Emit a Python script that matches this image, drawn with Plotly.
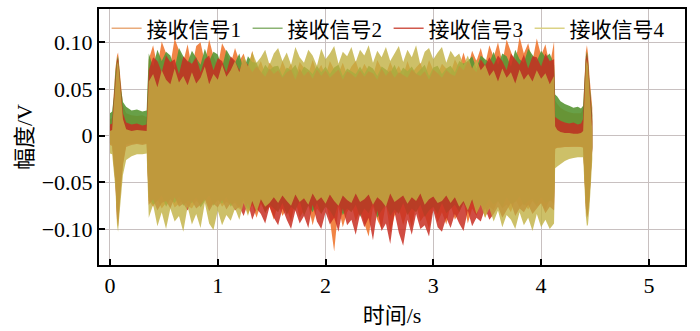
import plotly.graph_objects as go

# Sample times (s) of the envelope knots: start burst, main burst, tail
T = [
    0.00, 0.02, 0.035, 0.05, 0.065, 0.075, 0.085, 0.10, 0.12, 0.15, 0.20, 0.25, 0.30, 0.34,
    0.36, 0.40, 0.44, 0.48, 0.52, 0.56, 0.60, 0.64, 0.68, 0.72,
    0.76, 0.80, 0.84, 0.88, 0.92, 0.96, 1.00, 1.04, 1.08, 1.12,
    1.16, 1.20, 1.24, 1.28, 1.32, 1.36, 1.40, 1.44, 1.48, 1.52,
    1.56, 1.60, 1.64, 1.68, 1.72, 1.76, 1.80, 1.84, 1.88, 1.92,
    1.96, 2.00, 2.04, 2.08, 2.12, 2.16, 2.20, 2.24, 2.28, 2.32,
    2.36, 2.40, 2.44, 2.48, 2.52, 2.56, 2.60, 2.64, 2.68, 2.72,
    2.76, 2.80, 2.84, 2.88, 2.92, 2.96, 3.00, 3.04, 3.08, 3.12,
    3.16, 3.20, 3.24, 3.28, 3.32, 3.36, 3.40, 3.44, 3.48, 3.52,
    3.56, 3.60, 3.64, 3.68, 3.72, 3.76, 3.80, 3.84, 3.88, 3.92,
    3.96, 4.00, 4.04, 4.08, 4.12,
    4.13, 4.15, 4.18, 4.22, 4.26, 4.30, 4.34, 4.37,
    4.39, 4.405, 4.415, 4.425, 4.435, 4.45, 4.465, 4.475,
]

# Upper / lower envelopes of each received signal, in mV
S1_UP = [
    18, 19, 45, 72, 86, 89, 76, 55, 33, 24, 22, 21, 22, 20,
    82, 97, 74, 101, 88, 76, 104, 92, 79, 98,
    72, 96, 100, 78, 103, 85, 74, 99, 90, 77,
    94, 80, 88, 72, 91, 70, 80, 66, 78, 72,
    66, 80, 69, 77, 64, 79, 72, 66, 81, 68,
    76, 64, 80, 71, 67, 78, 65, 74, 80, 66,
    77, 69, 64, 81, 72, 66, 79, 68, 75, 64,
    80, 67, 73, 78, 65, 81, 70, 66, 77, 72,
    67, 82, 73, 89, 73, 91, 80, 94, 76, 97,
    84, 100, 78, 103, 91, 77, 106, 88, 99, 80,
    104, 86, 98, 75, 101,
    38, 34, 30, 27, 25, 24, 24, 24,
    30, 68, 90, 97, 88, 62, 45, 30,
]
S1_LO = [
    -9, -10, -30, -48, -85, -92, -78, -55, -30, -10, -9, -8, -9, -8,
    -70, -76, -68, -78, -72, -66, -77, -73, -69, -75,
    -78, -70, -74, -67, -77, -72, -68, -76, -71, -74,
    -72, -79, -70, -84, -74, -88, -73, -82, -76, -90,
    -72, -86, -78, -92, -70, -88, -80, -74, -96, -78,
    -84, -72, -90, -124, -76, -98, -82, -74, -92, -80,
    -94, -108, -76, -90, -100, -72, -104, -86, -78, -96,
    -80, -99, -74, -92, -85, -100, -76, -93, -82, -95,
    -74, -90, -82, -70, -94, -78, -86, -72, -88, -76,
    -80, -70, -78, -74, -82, -68, -77, -72, -79, -70,
    -76, -72, -80, -68, -74,
    -14, -13, -12, -12, -12, -11, -11, -12,
    -12, -50, -75, -86, -82, -65, -40, -12,
]
S2_UP = [
    24, 26, 42, 68, 82, 85, 74, 52, 36, 31, 27, 28, 26, 27,
    88, 74, 92, 80, 90, 86, 72, 94, 85, 78,
    91, 83, 76, 93, 80, 90, 87, 73, 92, 84,
    78, 88, 70, 85, 79, 78, 66, 76, 70, 74,
    75, 64, 73, 70, 76, 65, 74, 71, 66, 75,
    68, 74, 66, 73, 76, 64, 72, 69, 66, 74,
    66, 75, 72, 64, 74, 71, 67, 76, 65, 73,
    69, 74, 66, 71, 76, 64, 73, 75, 66, 72,
    75, 68, 80, 77, 80, 85, 72, 86, 82, 78,
    90, 76, 88, 85, 74, 92, 82, 78, 93, 86,
    80, 91, 84, 88, 76,
    44, 42, 37, 34, 32, 30, 31, 29,
    32, 64, 85, 90, 82, 56, 38, 22,
]
S2_LO = [
    -8, -9, -28, -46, -82, -90, -75, -52, -28, -9, -8, -8, -8, -8,
    -66, -74, -70, -64, -76, -68, -72, -65, -75, -70,
    -72, -66, -77, -70, -64, -75, -69, -73, -66, -76,
    -70, -75, -68, -79, -72, -80, -70, -83, -74, -78,
    -82, -72, -85, -76, -80, -70, -86, -75, -82, -72,
    -84, -76, -80, -88, -72, -85, -78, -82, -74, -87,
    -78, -83, -72, -88, -80, -74, -86, -79, -84, -72,
    -85, -78, -82, -74, -87, -80, -76, -84, -72, -83,
    -78, -74, -82, -72, -80, -70, -78, -74, -76, -68,
    -74, -70, -77, -66, -73, -71, -65, -75, -70, -68,
    -74, -66, -72, -70, -67,
    -13, -12, -12, -11, -11, -11, -11, -11,
    -12, -48, -72, -84, -80, -62, -38, -12,
]
S3_UP = [
    12, 13, 38, 64, 80, 83, 70, 48, 24, 14, 12, 13, 11, 12,
    70, 84, 80, 68, 86, 79, 82, 66, 85, 80,
    77, 84, 68, 82, 86, 70, 83, 80, 68, 85,
    80, 70, 82, 76, 68, 74, 69, 63, 72, 66,
    70, 62, 68, 71, 60, 72, 64, 69, 61, 71,
    64, 70, 62, 67, 71, 60, 69, 66, 62, 70,
    63, 69, 67, 60, 72, 64, 70, 62, 68, 65,
    62, 71, 66, 64, 69, 60, 71, 67, 62, 70,
    66, 64, 75, 70, 80, 73, 68, 82, 75, 84,
    76, 86, 80, 70, 88, 82, 76, 87, 72, 85,
    84, 74, 88, 80, 82,
    20, 18, 16, 14, 13, 14, 12, 13,
    18, 60, 82, 88, 80, 52, 34, 15,
]
S3_LO = [
    -10, -11, -32, -50, -90, -97, -82, -58, -32, -12, -10, -9, -10, -9,
    -74, -68, -80, -72, -70, -78, -66, -76, -73, -80,
    -70, -78, -74, -68, -81, -73, -77, -69, -79, -72,
    -80, -76, -86, -72, -90, -78, -84, -94, -76, -88,
    -96, -78, -90, -100, -80, -94, -86, -99, -74, -92,
    -100, -82, -95, -88, -103, -78, -96, -90, -106, -84,
    -98, -88, -112, -80, -102, -94, -116, -82, -104, -118,
    -90, -106, -84, -100, -96, -108, -80, -98, -103, -88,
    -99, -84, -94, -102, -80, -97, -88, -92, -78, -90,
    -84, -76, -88, -80, -72, -86, -78, -82, -74, -84,
    -78, -72, -83, -76, -80,
    -14, -13, -13, -12, -12, -12, -12, -12,
    -13, -52, -78, -88, -85, -66, -42, -14,
]
S4_UP = [
    5, 6, 32, 60, 76, 80, 66, 44, 18, 7, 5, 6, 5, 5,
    58, 66, 52, 70, 60, 55, 72, 57, 64, 54,
    68, 56, 62, 74, 55, 66, 60, 76, 63, 70,
    80, 68, 86, 74, 90, 78, 84, 92, 76, 88,
    94, 80, 89, 76, 95, 84, 78, 92, 86, 75,
    93, 82, 88, 96, 77, 90, 85, 95, 79, 92,
    86, 97, 78, 91, 84, 95, 80, 88, 96, 79,
    92, 84, 97, 76, 90, 94, 82, 89, 95, 78,
    91, 84, 88, 76, 86, 72, 82, 70, 76, 64,
    70, 58, 72, 62, 68, 56, 71, 60, 66, 58,
    70, 61, 67, 55, 64,
    10, 6, 4, 3, 3, 2, 2, 3,
    5, 55, 76, 82, 74, 46, 25, 5,
]
S4_LO = [
    -19, -20, -38, -56, -96, -103, -88, -65, -42, -26, -22, -20, -20, -19,
    -88, -74, -97, -82, -100, -78, -92, -86, -103, -76,
    -95, -84, -99, -72, -94, -101, -80, -96, -85, -91,
    -78, -90, -72, -86, -70, -82, -68, -76, -72, -66,
    -72, -64, -70, -75, -63, -71, -67, -74, -62, -70,
    -66, -73, -63, -70, -75, -64, -69, -72, -62, -71,
    -68, -63, -74, -66, -70, -76, -62, -71, -68, -64,
    -73, -66, -70, -62, -74, -68, -65, -72, -70, -64,
    -72, -66, -76, -70, -80, -68, -84, -74, -88, -78,
    -92, -80, -98, -85, -90, -100, -82, -96, -88, -102,
    -84, -98, -90, -100, -94,
    -35, -33, -30, -27, -25, -24, -23, -23,
    -23, -58, -86, -97, -95, -75, -50, -25,
]

NAMES = ["接收信号1", "接收信号2", "接收信号3", "接收信号4"]
FILL_COLORS = [
    "rgba(238,112,38,0.85)",
    "rgba(88,150,52,0.90)",
    "rgba(200,46,34,0.85)",
    "rgba(192,176,66,0.80)",
]
LINE_COLORS = [
    "rgba(228,150,90,0.8)",
    "rgba(110,160,80,0.8)",
    "rgba(200,60,45,0.85)",
    "rgba(215,205,120,0.9)",
]

X_TICKS = [0, 1, 2, 3, 4, 5]
Y_TICKS = [-0.10, -0.05, 0, 0.05, 0.10]
Y_TICK_TEXT = ["−0.10", "−0.05", "0", "0.05", "0.10"]

FONT = "Times New Roman, Liberation Serif, Noto Sans CJK SC, serif"

fig = go.Figure()

envelopes = [(S1_UP, S1_LO), (S2_UP, S2_LO), (S3_UP, S3_LO), (S4_UP, S4_LO)]
for name, (up, lo), fill in zip(NAMES, envelopes, FILL_COLORS):
    xs = T + T[::-1]
    ys = [v / 1000 for v in up] + [v / 1000 for v in lo[::-1]]
    fig.add_trace(go.Scatter(
        x=xs, y=ys, mode="lines", fill="toself", fillcolor=fill,
        line=dict(width=0), hoverinfo="skip", showlegend=False,
        legendgroup=name,
    ))

for name, color in zip(NAMES, LINE_COLORS):
    fig.add_trace(go.Scatter(
        x=[None], y=[None], mode="lines", name=name, legendgroup=name,
        line=dict(color=color, width=1.5),
    ))

axis_common = dict(
    showline=True, linewidth=2, linecolor="black", mirror=True,
    ticks="inside", ticklen=6, tickwidth=2, tickcolor="black",
    showgrid=True, gridcolor="#c8c0c0", gridwidth=1.2, zeroline=False,
    tickfont=dict(family=FONT, size=22, color="black"),
)

fig.update_layout(
    width=700, height=331,
    margin=dict(l=99, r=15, t=7, b=64),
    paper_bgcolor="white", plot_bgcolor="white",
    font=dict(family=FONT, size=22, color="black"),
    xaxis=dict(
        range=[-0.102, 5.335], tickvals=X_TICKS,
        title=dict(text="时间/s", standoff=10, font=dict(family=FONT, size=22)),
        **axis_common,
    ),
    yaxis=dict(
        range=[-0.1385, 0.1357], tickvals=Y_TICKS, ticktext=Y_TICK_TEXT,
        title=dict(text="幅度/V", standoff=3, font=dict(family=FONT, size=22)),
        **axis_common,
    ),
    legend=dict(
        orientation="h", x=0.013, xanchor="left", y=0.923, yanchor="middle",
        bgcolor="rgba(0,0,0,0)", font=dict(family=FONT, size=21, color="black"),
        entrywidth=96, entrywidthmode="pixels", itemwidth=30,
    ),
    showlegend=True,
)

fig.write_html("out.html")
